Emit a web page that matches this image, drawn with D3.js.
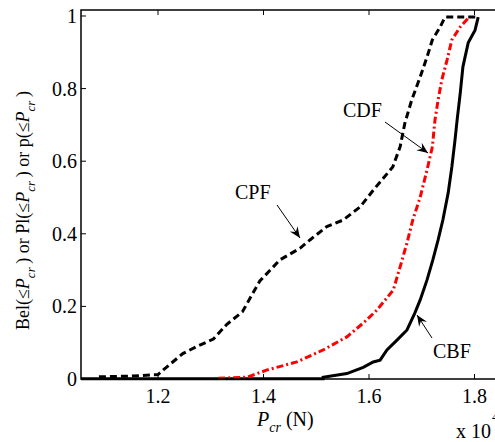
<!DOCTYPE html>
<html>
<head>
<script src="https://cdnjs.cloudflare.com/ajax/libs/d3/7.8.5/d3.min.js"></script>
<style>
  body { margin: 0; background: #fff; overflow: hidden; }
  text { font-family: "Liberation Serif", "DejaVu Serif", serif; fill: #000; }
</style>
</head>
<body>
<svg id="chart" width="495" height="442"></svg>
<script>
// values: [Pcr (x 10^4 N), probability]
const cpf = [[1.088,0.006],[1.15,0.008],[1.2,0.012],[1.21,0.025],[1.247,0.07],[1.274,0.09],[1.305,0.11],
  [1.33,0.15],[1.36,0.185],[1.38,0.237],[1.393,0.27],[1.431,0.328],[1.469,0.36],[1.488,0.383],[1.52,0.42],
  [1.551,0.438],[1.583,0.474],[1.608,0.52],[1.627,0.553],[1.645,0.584],[1.659,0.64],[1.668,0.705],
  [1.681,0.769],[1.697,0.832],[1.71,0.887],[1.72,0.934],[1.735,0.97],[1.744,0.997],[1.807,0.997]];
const cdf = [[1.314,0.002],[1.369,0.005],[1.407,0.025],[1.463,0.047],[1.513,0.08],[1.558,0.116],[1.589,0.154],
  [1.615,0.19],[1.646,0.245],[1.659,0.309],[1.672,0.375],[1.683,0.438],[1.697,0.501],[1.71,0.576],
  [1.72,0.639],[1.725,0.713],[1.731,0.769],[1.738,0.824],[1.748,0.879],[1.757,0.934],[1.773,0.97],[1.79,0.997]];
const cbf = [[1.054,0.001],[1.513,0.001],[1.513,0.005],[1.558,0.015],[1.589,0.032],[1.608,0.047],[1.621,0.052],
  [1.634,0.08],[1.653,0.107],[1.672,0.135],[1.687,0.182],[1.697,0.218],[1.71,0.273],[1.721,0.328],
  [1.731,0.383],[1.74,0.438],[1.75,0.512],[1.757,0.584],[1.763,0.658],[1.767,0.713],[1.773,0.788],
  [1.778,0.86],[1.788,0.926],[1.801,0.961],[1.807,0.997]];
const xTicks = [1.2, 1.4, 1.6, 1.8];
const yTicks = [0, 0.2, 0.4, 0.6, 0.8, 1];

const svg = d3.select("#chart");
const x = d3.scaleLinear().domain([1.054, 1.854]).range([81, 503]);
const y = d3.scaleLinear().domain([0, 1.0165]).range([379, 10]);

// curves
const line = d3.line().x(d => x(d[0])).y(d => y(d[1]));
svg.append("path").datum(cbf).attr("d", line)
  .attr("fill", "none").attr("stroke", "#000").attr("stroke-width", 3);
svg.append("path").datum(cdf).attr("d", line)
  .attr("fill", "none").attr("stroke", "#f00").attr("stroke-width", 3)
  .attr("stroke-dasharray", "7,3,2,3");
svg.append("path").datum(cpf).attr("d", line)
  .attr("fill", "none").attr("stroke", "#000").attr("stroke-width", 3)
  .attr("stroke-dasharray", "7,4");

// axes box (left, bottom, top)
const ax = svg.append("g").attr("stroke", "#000").attr("stroke-width", 1.5).attr("fill", "none");
ax.append("path").attr("d", `M${x.range()[1]},10H81V379H${x.range()[1]}`);

// ticks pointing inward
xTicks.forEach(t => {
  ax.append("line").attr("x1", x(t)).attr("x2", x(t)).attr("y1", 379).attr("y2", 374).attr("stroke-width", 1);
  ax.append("line").attr("x1", x(t)).attr("x2", x(t)).attr("y1", 10).attr("y2", 15).attr("stroke-width", 1);
  svg.append("text").attr("x", x(t)).attr("y", 403).attr("text-anchor", "middle")
    .attr("font-size", 20).text(t.toFixed(1));
});
yTicks.forEach(t => {
  ax.append("line").attr("x1", 81).attr("x2", 86).attr("y1", y(t)).attr("y2", y(t)).attr("stroke-width", 1);
  svg.append("text").attr("x", 77).attr("y", y(t) + 7).attr("text-anchor", "end")
    .attr("font-size", 20).text(t === 0 || t === 1 ? String(t) : t.toFixed(1));
});

// axis labels
const xl = svg.append("text").attr("x", 257).attr("y", 426).attr("font-size", 20);
xl.append("tspan").attr("font-style", "italic").text("P");
xl.append("tspan").attr("font-style", "italic").attr("font-size", 14).attr("dy", 6).text("cr");
xl.append("tspan").attr("dy", -6).text(" (N)");

svg.append("text").attr("x", 456).attr("y", 438).attr("font-size", 20).text("x 10");
svg.append("text").attr("x", 492).attr("y", 421).attr("font-size", 13).text("4");

const yl = svg.append("text").attr("transform", "translate(29,330) rotate(-90)").attr("font-size", 18);
[["Bel(\u2264", ") or Pl(\u2264"], [null, ") or p(\u2264"], [null, ")"]].forEach((seg, i) => {
  if (seg[0]) yl.append("tspan").text(seg[0]);
  yl.append("tspan").attr("font-style", "italic").text("P");
  yl.append("tspan").attr("font-style", "italic").attr("font-size", 13).attr("dy", 6).text("cr");
  yl.append("tspan").attr("dy", -6).text("\u2009" + seg[1]);
});

// annotations
const notes = [
  {label: "CDF", tx: 343, ty: 117, from: [385, 122], to: [428, 153]},
  {label: "CPF", tx: 235, ty: 199, from: [277, 205], to: [300, 238]},
  {label: "CBF", tx: 433, ty: 358, from: [432, 338], to: [417, 315]}
];
notes.forEach(n => {
  svg.append("text").attr("x", n.tx).attr("y", n.ty).attr("font-size", 20).text(n.label);
  const ang = Math.atan2(n.to[1] - n.from[1], n.to[0] - n.from[0]);
  svg.append("line").attr("x1", n.from[0]).attr("y1", n.from[1]).attr("x2", n.to[0]).attr("y2", n.to[1])
    .attr("stroke", "#000").attr("stroke-width", 1);
  const L = 12, W = 0.4;
  const p1 = [n.to[0] - L * Math.cos(ang - W), n.to[1] - L * Math.sin(ang - W)];
  const p2 = [n.to[0] - L * Math.cos(ang + W), n.to[1] - L * Math.sin(ang + W)];
  const pm = [n.to[0] - 0.6 * L * Math.cos(ang), n.to[1] - 0.6 * L * Math.sin(ang)];
  svg.append("path").attr("d", `M${n.to}L${p1}L${pm}L${p2}Z`).attr("fill", "#000");
});
</script>
</body>
</html>
